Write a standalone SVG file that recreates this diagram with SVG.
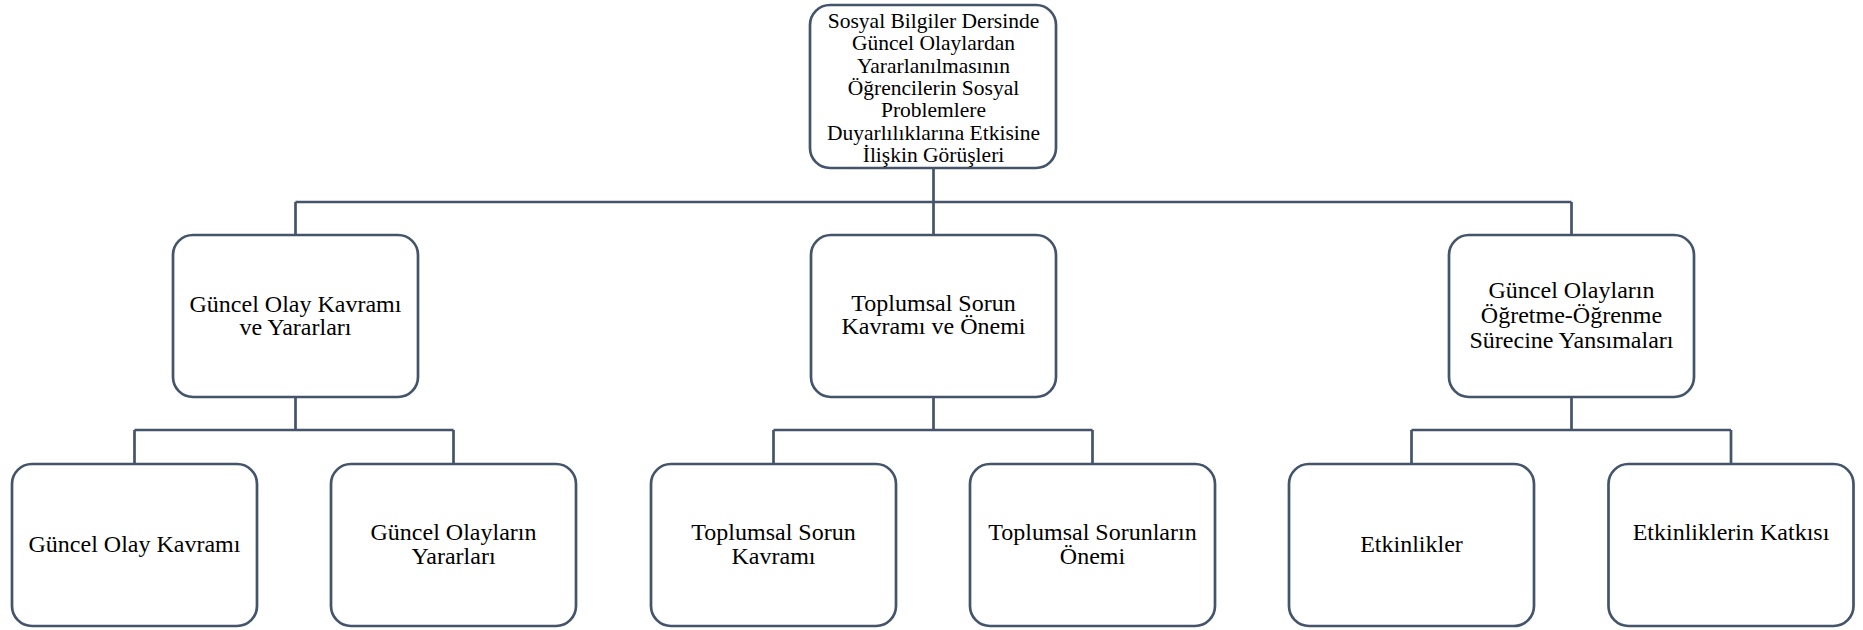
<svg xmlns="http://www.w3.org/2000/svg" width="1863" height="630" viewBox="0 0 1863 630">
<style>
.box{fill:#ffffff;stroke:#44546A;stroke-width:2.7}
.conn{fill:none;stroke:#44546A;stroke-width:2.7}
.t{font-family:'Liberation Serif','Times New Roman',serif;fill:#000000;text-anchor:middle}
.root{font-size:21.5px}
.lbl{font-size:24px}
</style>
<rect width="1863" height="630" fill="#ffffff"/>
<g id="connectors">
<path class="conn" d="M933.5 168 V202 M295.5 202 H1571.5 M295.5 202 V235 M933.5 202 V235 M1571.5 202 V235"/>
<path class="conn" d="M295.5 397 V430 M134.5 430 H453.5 M134.5 430 V464 M453.5 430 V464"/>
<path class="conn" d="M933.5 397 V430 M773.5 430 H1092.5 M773.5 430 V464 M1092.5 430 V464"/>
<path class="conn" d="M1571.5 397 V430 M1411.5 430 H1731 M1411.5 430 V464 M1731 430 V464"/>
</g>
<g id="root">
<rect class="box" x="810" y="5" width="246" height="163" rx="20"/>
<text class="t root"><tspan x="933.5" y="28">Sosyal Bilgiler Dersinde</tspan><tspan x="933.5" y="50.3">Güncel Olaylardan</tspan><tspan x="933.5" y="72.6">Yararlanılmasının</tspan><tspan x="933.5" y="94.9">Öğrencilerin Sosyal</tspan><tspan x="933.5" y="117.2">Problemlere</tspan><tspan x="933.5" y="139.5">Duyarlılıklarına Etkisine</tspan><tspan x="933.5" y="161.8">İlişkin Görüşleri</tspan></text>
</g>
<g id="n1">
<rect class="box" x="173" y="235" width="245" height="162" rx="20"/>
<text class="t lbl"><tspan x="295.5" y="312">Güncel Olay Kavramı</tspan><tspan x="295.5" y="335">ve Yararları</tspan></text>
</g>
<g id="n2">
<rect class="box" x="811" y="235" width="245" height="162" rx="20"/>
<text class="t lbl"><tspan x="933.5" y="311">Toplumsal Sorun</tspan><tspan x="933.5" y="334">Kavramı ve Önemi</tspan></text>
</g>
<g id="n3">
<rect class="box" x="1449" y="235" width="245" height="162" rx="20"/>
<text class="t lbl"><tspan x="1571.5" y="298">Güncel Olayların</tspan><tspan x="1571.5" y="323">Öğretme-Öğrenme</tspan><tspan x="1571.5" y="348">Sürecine Yansımaları</tspan></text>
</g>
<g id="n1a">
<rect class="box" x="12" y="464" width="245" height="162" rx="20"/>
<text class="t lbl" x="134.5" y="552">Güncel Olay Kavramı</text>
</g>
<g id="n1b">
<rect class="box" x="331" y="464" width="245" height="162" rx="20"/>
<text class="t lbl"><tspan x="453.5" y="540">Güncel Olayların</tspan><tspan x="453.5" y="564">Yararları</tspan></text>
</g>
<g id="n2a">
<rect class="box" x="651" y="464" width="245" height="162" rx="20"/>
<text class="t lbl"><tspan x="773.5" y="540">Toplumsal Sorun</tspan><tspan x="773.5" y="564">Kavramı</tspan></text>
</g>
<g id="n2b">
<rect class="box" x="970" y="464" width="245" height="162" rx="20"/>
<text class="t lbl"><tspan x="1092.5" y="540">Toplumsal Sorunların</tspan><tspan x="1092.5" y="564">Önemi</tspan></text>
</g>
<g id="n3a">
<rect class="box" x="1289" y="464" width="245" height="162" rx="20"/>
<text class="t lbl" x="1411.5" y="552">Etkinlikler</text>
</g>
<g id="n3b">
<rect class="box" x="1608.5" y="464" width="245" height="162" rx="20"/>
<text class="t lbl" x="1731" y="540">Etkinliklerin Katkısı</text>
</g>
</svg>
